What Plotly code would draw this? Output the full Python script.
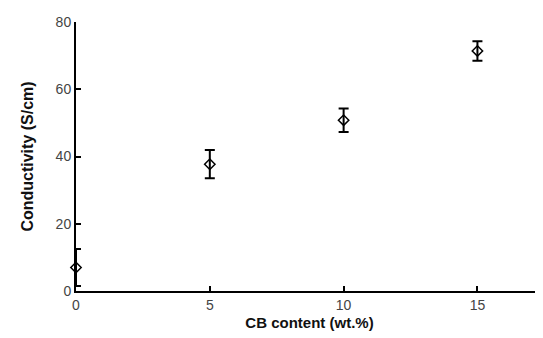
import plotly.graph_objects as go

cb_content = [0, 5, 10, 15]
conductivity = [7.0, 37.7, 50.8, 71.4]
error = [5.5, 4.2, 3.5, 2.9]
x_ticks = [0, 5, 10, 15]
y_ticks = [0, 20, 40, 60, 80]

fig = go.Figure()
fig.add_trace(go.Scatter(
    x=cb_content, y=conductivity, mode="markers",
    marker=dict(symbol="diamond-open", size=8, color="black", line=dict(width=1.5)),
    error_y=dict(type="data", array=error, visible=True, color="black", thickness=2, width=5),
    cliponaxis=False, showlegend=False,
))

font_family = "Liberation Sans, Arial, sans-serif"
fig.update_layout(
    width=535, height=330,
    margin=dict(l=68, r=0, t=14, b=47),
    plot_bgcolor="white", paper_bgcolor="white",
    font=dict(family=font_family, color="#444", size=14),
    xaxis=dict(
        range=[0, 17.45], tickvals=x_ticks, ticks="inside", ticklen=5, tickwidth=1.5,
        tickcolor="black", showline=True, linecolor="black", linewidth=2,
        showgrid=False, zeroline=False,
        title=dict(text="<b>CB content (wt.%)</b>", font=dict(size=15, color="#111"), standoff=6),
    ),
    yaxis=dict(
        range=[0, 80], tickvals=y_ticks, ticks="inside", ticklen=5, tickwidth=1.5,
        tickcolor="black", showline=True, linecolor="black", linewidth=2,
        showgrid=False, zeroline=False,
        title=dict(text="<b>Conductivity (S/cm)</b>", font=dict(size=16, color="#111"), standoff=18),
    ),
)

fig.write_html("out.html")
